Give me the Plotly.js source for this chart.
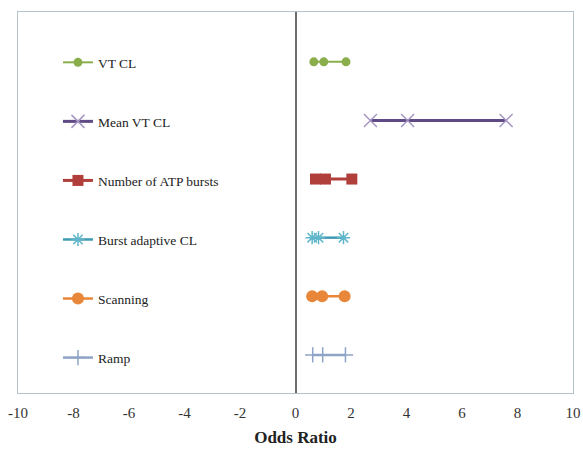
<!DOCTYPE html>
<html>
<head>
<meta charset="utf-8">
<script src="https://cdn.plot.ly/plotly-3.0.1.min.js"></script>
<style>html,body{margin:0;padding:0;background:#fff;}#chart{width:583px;height:449px;}</style>
</head>
<body>
<div id="chart"></div>
<script>
const seriesNames = ["VT CL", "Mean VT CL", "Number of ATP bursts", "Burst adaptive CL", "Scanning", "Ramp"];
const rowPos = [6, 5, 4, 3, 2, 1];
const vtcl = [0.66, 1.02, 1.82];
const meanVtcl = [2.7, 4.04, 7.59];
const atpBursts = [0.72, 1.08, 2.03];
const burstAdaptive = [0.6, 0.83, 1.73];
const scanning = [0.6, 0.96, 1.77];
const ramp = [0.62, 0.98, 1.8];
const xTicks = [-10, -8, -6, -4, -2, 0, 2, 4, 6, 8, 10];

const values = [vtcl, meanVtcl, atpBursts, burstAdaptive, scanning, ramp];
const styles = [
  {line:{color:'#8aae4c', width:2}, marker:{symbol:'circle', size:9, color:'#8aae4c'}},
  {line:{color:'#5f4a86', width:3}, marker:{symbol:'x-thin-open', size:13, color:'#a596c4', line:{color:'#a596c4', width:1.5}}},
  {line:{color:'#b03f3b', width:3}, marker:{symbol:'square', size:11, color:'#b03f3b'}},
  {line:{color:'#3f9bb2', width:2.5}, marker:{symbol:'asterisk-open', size:11, color:'#5fb6cb', line:{color:'#5fb6cb', width:1.5}}},
  {line:{color:'#e8873a', width:2.5}, marker:{symbol:'circle', size:12, color:'#e8873a'}},
  {line:{color:'#8ea4c6', width:2.5}, marker:{symbol:'cross-thin-open', size:11, color:'#8ea4c6', line:{color:'#8ea4c6', width:1.5}}}
];

const traces = seriesNames.map((name, i) => ({
  type: 'scatter',
  mode: 'lines+markers',
  name: name,
  legendgroup: 'g' + i,
  x: values[i],
  y: values[i].map(() => rowPos[i]),
  line: styles[i].line,
  marker: styles[i].marker,
  hoverinfo: 'x+name'
}));

const layout = {
  width: 583, height: 449,
  margin: {l: 18, r: 10, t: 12, b: 56},
  paper_bgcolor: '#fff', plot_bgcolor: '#fff',
  font: {family: 'Liberation Serif, Times New Roman, serif', size: 15, color: '#333'},
  showlegend: true,
  legend: {
    x: 0.072, xanchor: 'left', y: 0.908, yanchor: 'top',
    bgcolor: 'rgba(0,0,0,0)',
    font: {family: 'Liberation Serif, serif', size: 13.5, color: '#222'},
    tracegroupgap: 38.5,
    itemwidth: 30,
    traceorder: 'grouped'
  },
  xaxis: {
    range: [-10, 10],
    tickvals: xTicks,
    ticktext: xTicks.map(String),
    showgrid: false,
    zeroline: true, zerolinecolor: '#6b6b6b', zerolinewidth: 2,
    showline: true, mirror: true, linecolor: '#b4c2cc', linewidth: 1.2,
    ticks: 'outside', ticklen: 6, tickcolor: 'rgba(0,0,0,0)',
    tickfont: {family: 'Liberation Serif, serif', size: 15, color: '#333'},
    title: {text: '<b>Odds Ratio</b>', font: {family: 'Liberation Serif, serif', size: 17, color: '#222'}, standoff: 10}
  },
  yaxis: {
    range: [0.35, 6.85],
    showgrid: false, zeroline: false,
    showticklabels: false, ticks: '',
    showline: true, mirror: true, linecolor: '#b4c2cc', linewidth: 1.2
  }
};

Plotly.newPlot('chart', traces, layout, {displayModeBar: false, staticPlot: true});
</script>
</body>
</html>
